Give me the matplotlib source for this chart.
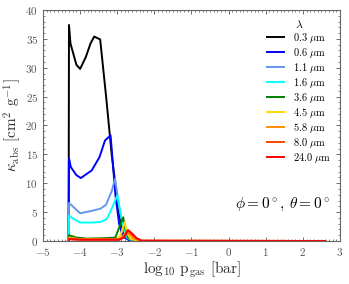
import matplotlib
matplotlib.use('Agg')
import matplotlib.pyplot as plt
from matplotlib.ticker import MultipleLocator

plt.rcParams['font.family'] = 'serif'
plt.rcParams['font.serif'] = ['cmr10']
plt.rcParams['mathtext.fontset'] = 'cm'
plt.rcParams['axes.unicode_minus'] = False
plt.rcParams['axes.formatter.use_mathtext'] = True

# log10 p_gas [bar] and kappa_abs [cm^2 g^-1]
x_black = [-4.31, -4.30, -4.26, -4.10, -4.00, -3.85, -3.72, -3.62, -3.46, -3.30, -3.15, -3.00, -2.90, -2.80, -2.70, -2.50, -2.30, 2.60]
y_black = [0.0, 37.4, 34.2, 30.5, 29.8, 31.8, 34.2, 35.4, 34.9, 25.0, 15.0, 7.0, 3.0, 1.0, 0.3, 0.05, 0.0, 0.0]

x_blue = [-4.31, -4.30, -4.25, -4.10, -3.98, -3.85, -3.69, -3.48, -3.33, -3.18, -3.05, -2.95, -2.85, -2.70, -2.50, -2.30, 2.60]
y_blue = [0.0, 14.3, 12.8, 11.4, 10.9, 11.5, 12.2, 14.5, 17.4, 18.3, 8.0, 3.0, 0.8, 0.2, 0.05, 0.0, 0.0]

x_ltblue = [-4.31, -4.30, -4.20, -4.00, -3.70, -3.45, -3.30, -3.15, -3.06, -2.95, -2.85, -2.75, -2.60, -2.40, 2.60]
y_ltblue = [0.0, 6.6, 6.0, 4.8, 5.2, 5.6, 6.3, 8.6, 10.8, 6.0, 2.5, 0.6, 0.1, 0.0, 0.0]

x_cyan = [-4.31, -4.30, -4.20, -4.00, -3.70, -3.45, -3.28, -3.12, -3.00, -2.90, -2.80, -2.70, -2.55, -2.40, 2.60]
y_cyan = [0.0, 4.4, 3.9, 3.2, 3.2, 3.3, 3.8, 6.0, 7.9, 4.5, 1.5, 0.4, 0.1, 0.0, 0.0]

x_green = [-4.31, -4.30, -4.10, -3.80, -3.30, -3.05, -2.95, -2.84, -2.78, -2.70, -2.55, -2.40, 2.60]
y_green = [0.0, 1.0, 0.6, 0.4, 0.5, 0.6, 2.3, 4.1, 2.0, 0.5, 0.1, 0.0, 0.0]

x_yellow = [-4.31, -4.30, -4.00, -3.50, -3.00, -2.90, -2.80, -2.74, -2.65, -2.50, -2.40, 2.60]
y_yellow = [0.0, 0.6, 0.3, 0.3, 0.3, 1.2, 3.3, 1.5, 0.4, 0.1, 0.0, 0.0]

x_orange = [-4.31, -4.30, -4.00, -3.50, -2.95, -2.85, -2.76, -2.68, -2.55, -2.40, 2.60]
y_orange = [0.0, 0.5, 0.3, 0.3, 0.3, 0.8, 1.6, 1.2, 0.4, 0.05, 0.0]

x_ored = [-4.31, -4.30, -4.00, -3.50, -2.95, -2.82, -2.72, -2.62, -2.50, -2.35, 2.60]
y_ored = [0.0, 0.4, 0.3, 0.3, 0.3, 0.7, 1.8, 1.2, 0.5, 0.05, 0.0]

x_red = [-4.31, -4.30, -4.00, -3.50, -2.95, -2.82, -2.71, -2.60, -2.48, -2.35, 2.60]
y_red = [0.0, 0.3, 0.2, 0.2, 0.2, 0.6, 1.9, 1.3, 0.5, 0.05, 0.0]

series = [
    ('0.3', x_black, y_black, 'black'),
    ('0.6', x_blue, y_blue, '#0000ff'),
    ('1.1', x_ltblue, y_ltblue, '#6495ed'),
    ('1.6', x_cyan, y_cyan, '#00ffff'),
    ('3.6', x_green, y_green, '#008000'),
    ('4.5', x_yellow, y_yellow, '#ffd700'),
    ('5.8', x_orange, y_orange, '#ff8c00'),
    ('8.0', x_ored, y_ored, '#ff4500'),
    ('24.0', x_red, y_red, '#ff0000'),
]

fig = plt.figure(figsize=(3.49, 2.84), dpi=100)
ax = fig.add_axes([0.1232, 0.1514, 0.851, 0.8134])

for lam, xs, ys, c in series:
    ax.plot(xs, ys, color=c, lw=1.4, label=r'$\mathrm{' + lam + r'}\ \mu\mathrm{m}$')

ax.set_xlim(-5, 3)
ax.set_ylim(0, 40)
ax.xaxis.set_major_locator(MultipleLocator(1))
ax.xaxis.set_minor_locator(MultipleLocator(0.1))
ax.yaxis.set_major_locator(MultipleLocator(5))
ax.yaxis.set_minor_locator(MultipleLocator(1))
ax.tick_params(which='both', direction='in', top=True, right=True, labelsize=8, colors='#555555', labelcolor='#555555')
ax.tick_params(which='major', length=3, width=0.6)
ax.tick_params(which='minor', length=1.5, width=0.5)
for s in ax.spines.values():
    s.set_color('#666666')

ax.set_xlabel(r'log$_{10}$ p$_\mathrm{gas}$ [bar]', fontsize=11, color='#333333', labelpad=1)
ax.set_ylabel(r'$\kappa_\mathrm{abs}$ [cm$^2$ g$^{-1}$]', fontsize=11, color='#333333', labelpad=2)

leg = ax.legend(loc='upper right', frameon=False, fontsize=7.5, title=r'$\lambda$',
                title_fontsize=8.5, handlelength=1.6, handletextpad=0.9,
                labelspacing=0.09, borderaxespad=0.45)
ax.text(0.966, 0.16, r'$\phi = 0^\circ$, $\theta = 0^\circ$', transform=ax.transAxes,
        ha='right', va='center', fontsize=11)

fig.savefig('out.png', dpi=100)
